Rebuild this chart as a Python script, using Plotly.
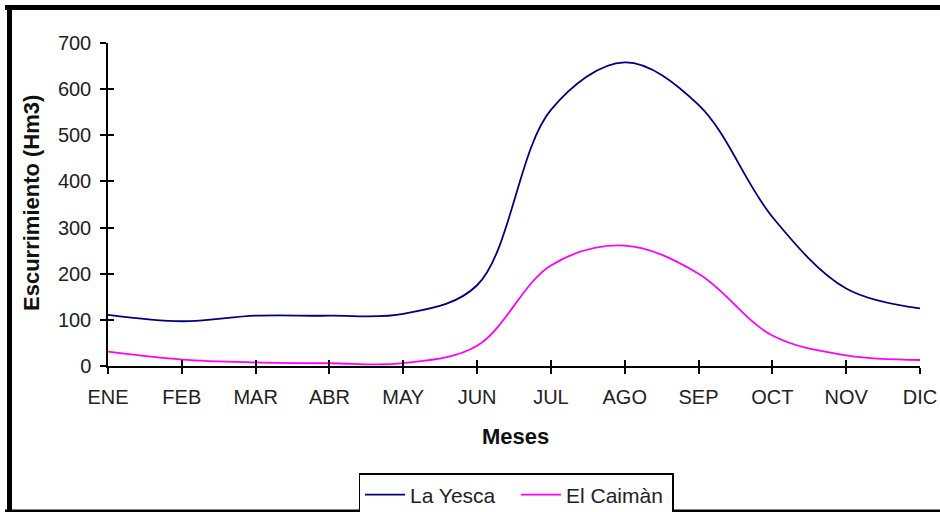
import plotly.graph_objects as go

months = ["ENE", "FEB", "MAR", "ABR", "MAY", "JUN", "JUL", "AGO", "SEP", "OCT", "NOV", "DIC"]
la_yesca = [111, 97, 109, 109, 113, 175, 555, 658, 566, 323, 168, 125]
el_caiman = [31, 14, 8, 6, 6, 44, 218, 261, 200, 66, 23, 13]
y_ticks = [0, 100, 200, 300, 400, 500, 600, 700]

W, H = 940, 512
L, R, T, B = 108, 20, 43, 146
PW, PH = W - L - R, H - T - B

def px_x(px):
    return (px - L) / PW

def px_y(py):
    return (H - B - py) / PH

FONT = "Liberation Sans, Arial, sans-serif"
idx = list(range(len(months)))

fig = go.Figure()
fig.add_trace(go.Scatter(x=idx, y=la_yesca, name="La Yesca", mode="lines",
                         line=dict(color="#000080", width=1.8, shape="spline", smoothing=1.0)))
fig.add_trace(go.Scatter(x=idx, y=el_caiman, name="El Caimàn", mode="lines",
                         line=dict(color="#FF00FF", width=1.8, shape="spline", smoothing=1.0)))
fig.add_trace(go.Scatter(x=[None], y=[None], xaxis="x2", yaxis="y2", showlegend=False,
                         hoverinfo="skip", mode="lines"))

axis_common = dict(showgrid=False, zeroline=False, showline=True, linecolor="black",
                   linewidth=1.5, tickcolor="black", tickwidth=1.5, ticklen=6)

fig.update_layout(
    width=W, height=H,
    margin=dict(l=L, r=R, t=T, b=B, autoexpand=False),
    paper_bgcolor="white", plot_bgcolor="white",
    font=dict(family=FONT, size=20, color="#222222"),
    xaxis=dict(range=[0, 11], tickmode="array", tickvals=idx, ticktext=months,
               ticks="outside", ticklabelstandoff=6, **axis_common),
    yaxis=dict(range=[0, 700], tickmode="array", tickvals=y_ticks,
               ticks="outside", ticklabelstandoff=5, **axis_common),
    xaxis2=dict(range=[0, 11], overlaying="x", anchor="y", side="bottom",
                tickmode="array", tickvals=idx, ticks="inside", showticklabels=False,
                **axis_common),
    yaxis2=dict(range=[0, 700], overlaying="y", anchor="x", side="left",
                tickmode="array", tickvals=y_ticks, ticks="inside", showticklabels=False,
                **axis_common),
    showlegend=True,
    legend=dict(orientation="h", x=px_x(516), xanchor="center", y=px_y(473), yanchor="top",
                bordercolor="black", borderwidth=1.5, bgcolor="white",
                font=dict(family=FONT, size=21, color="#222222"),
                itemwidth=40, tracegroupgap=0, entrywidth=101, entrywidthmode="pixels"),
    annotations=[
        dict(text="<b>Meses</b>", x=px_x(515), y=px_y(436), xref="paper", yref="paper",
             xanchor="center", yanchor="middle", showarrow=False,
             font=dict(family=FONT, size=22, color="#111111")),
        dict(text="<b>Escurrimiento (Hm3)</b>", x=px_x(32), y=px_y(203), xref="paper", yref="paper",
             xanchor="center", yanchor="middle", showarrow=False, textangle=-90,
             font=dict(family=FONT, size=22, color="#111111")),
    ],
    shapes=[
        dict(type="line", xref="paper", yref="paper", x0=px_x(5), x1=px_x(945),
             y0=px_y(7.5), y1=px_y(7.5), line=dict(color="black", width=5)),
        dict(type="line", xref="paper", yref="paper", x0=px_x(9.5), x1=px_x(9.5),
             y0=px_y(5), y1=px_y(515), line=dict(color="black", width=5)),
        dict(type="line", xref="paper", yref="paper", x0=px_x(5), x1=px_x(945),
             y0=px_y(511), y1=px_y(511), line=dict(color="black", width=3)),
    ],
)

fig.write_html("out.html", config={"displayModeBar": False},
               post_script="document.body.style.margin='0';document.body.style.overflow='hidden';")
